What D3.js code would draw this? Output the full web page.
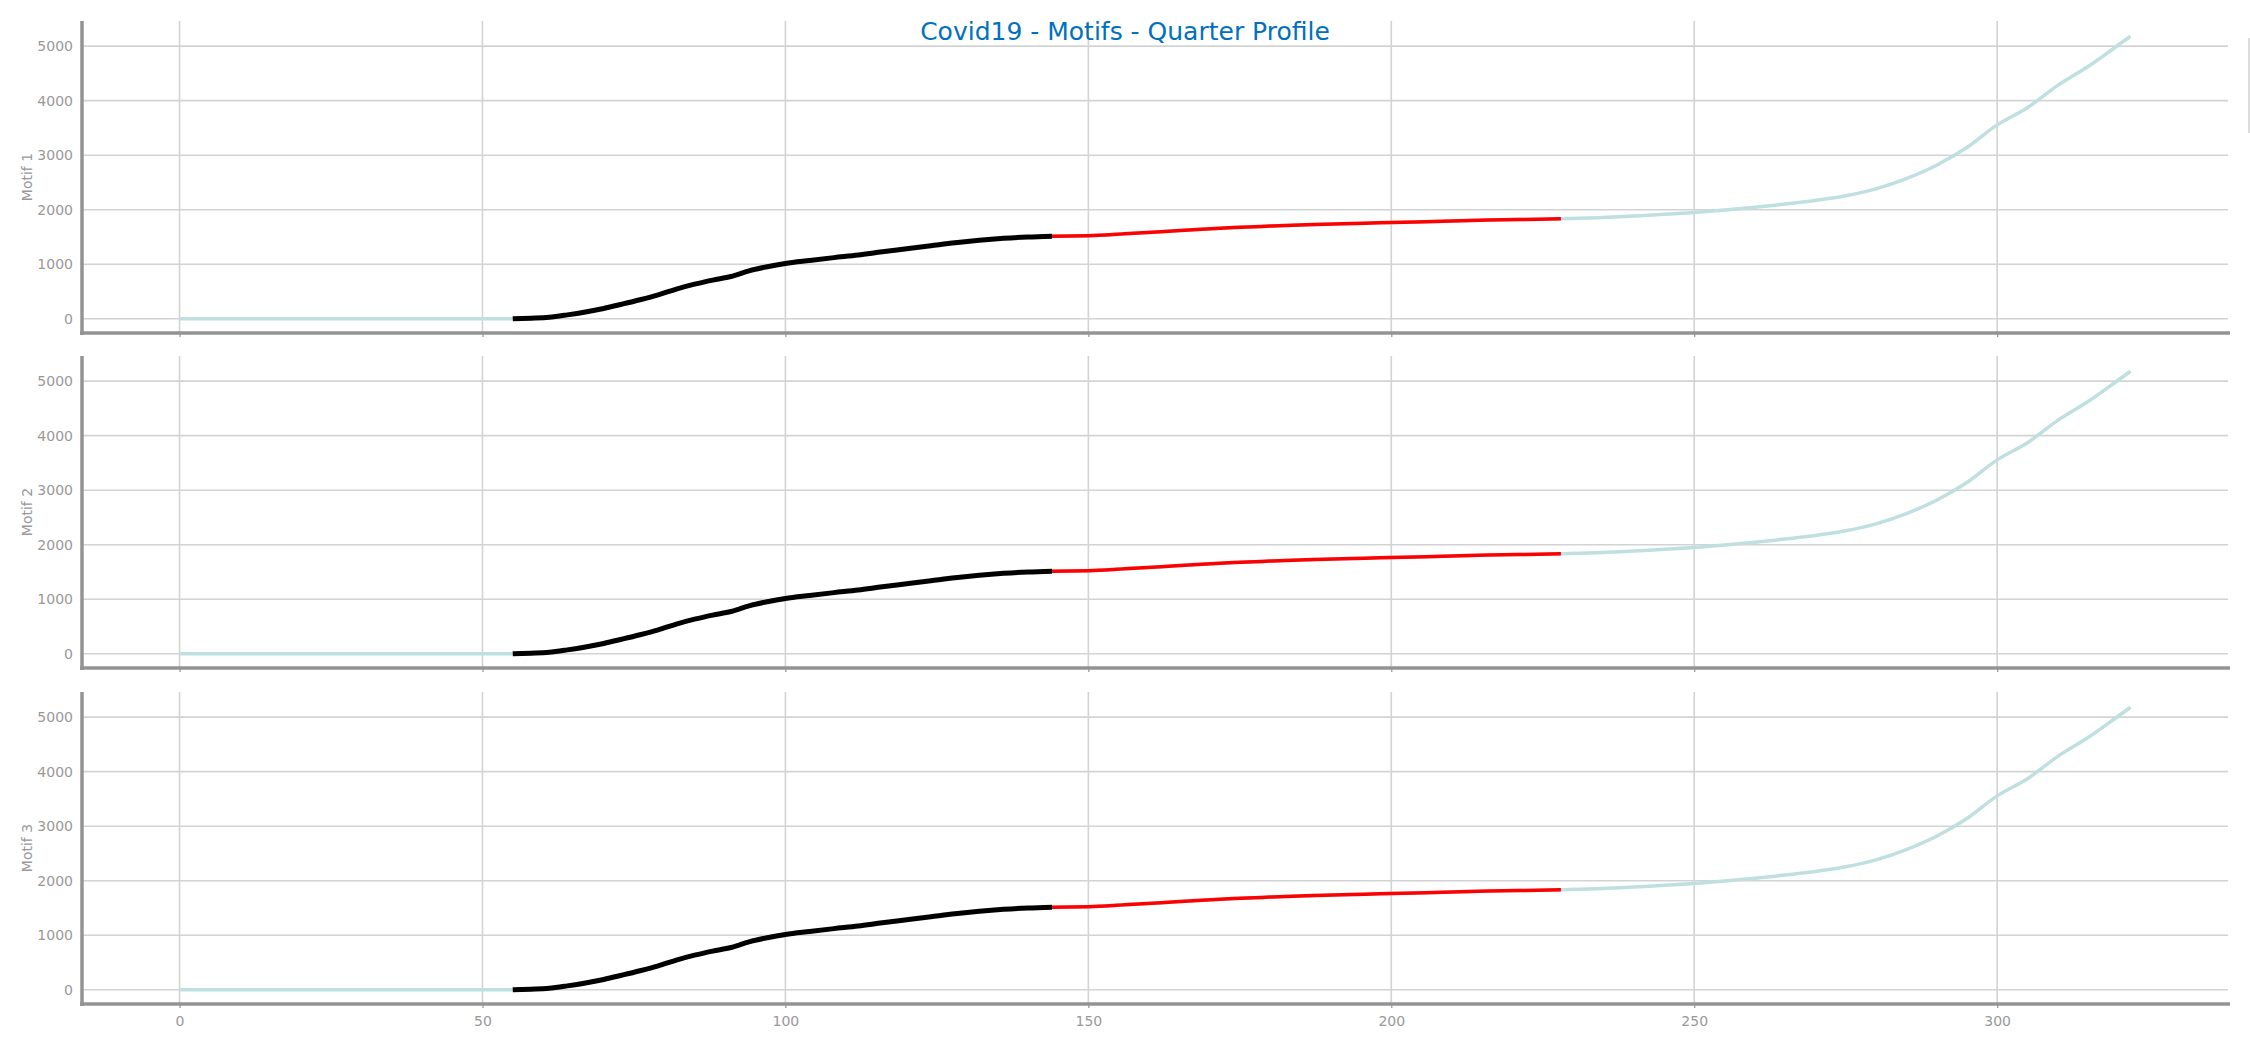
<!DOCTYPE html>
<html>
<head>
<meta charset="utf-8">
<script src="https://cdn.jsdelivr.net/npm/d3@7"></script>
<style>
  body { margin: 0; background: #fff; }
  svg text { font-family: "DejaVu Sans", sans-serif; }
</style>
</head>
<body>
<script>
// series (same profile in every panel)
const days = [0, 10, 20, 30, 40, 50, 55, 58, 61, 64, 67, 70, 73, 76, 79, 82, 85, 88, 91, 94, 97, 100,
  104, 108, 112, 116, 120, 124, 128, 132, 136, 140, 144, 150, 156, 162, 168, 174, 180, 186, 192, 198,
  204, 210, 216, 222, 228, 234, 240, 246, 250, 255, 260, 265, 270, 275, 280, 285, 290, 295, 300, 305,
  310, 315, 320, 322];
const values = [0, 0, 0, 0, 0, 0, 0, 11, 28, 72, 125, 190, 268, 350, 440, 545, 635, 710, 775, 880, 955, 1015,
  1070, 1122, 1170, 1230, 1285, 1340, 1395, 1440, 1475, 1500, 1516, 1522, 1558, 1597, 1637, 1673, 1700, 1724, 1744, 1760,
  1776, 1794, 1810, 1822, 1835, 1855, 1885, 1920, 1951, 1995, 2045, 2103, 2170, 2255, 2383, 2570, 2815, 3140, 3555, 3870,
  4280, 4625, 5020, 5180];

const panelNames = ["Motif 1", "Motif 2", "Motif 3"];
const motifRange = [55, 144];   // black
const nextRange = [144, 228];   // red
const xTicks = [0, 50, 100, 150, 200, 250, 300];
const yTicks = [0, 1000, 2000, 3000, 4000, 5000];
const title = "Covid19 - Motifs - Quarter Profile";

const width = 2250;
const height = 1050;
const left = 82;
const right = 2228;
const panelTops = [21, 356, 692];
const panelH = 312;

const data = days.map((d, i) => ({ x: d, y: values[i] }));

const svg = d3.select("body").append("svg")
  .attr("width", width)
  .attr("height", height);

const xScale = d3.scaleLinear().domain([-16.1, 338.1]).range([left, right]);

panelNames.forEach((name, p) => {
  const top = panelTops[p];
  const bottom = top + panelH;
  const yScale = d3.scaleLinear().domain([-260, 5460]).range([bottom, top]);
  const g = svg.append("g");

  // grid
  g.selectAll(".vgrid").data(xTicks).enter().append("line")
    .attr("x1", (d) => xScale(d)).attr("x2", (d) => xScale(d))
    .attr("y1", top).attr("y2", bottom)
    .attr("stroke", "#d3d3d3").attr("stroke-width", 1.6);
  g.selectAll(".hgrid").data(yTicks).enter().append("line")
    .attr("x1", left).attr("x2", right)
    .attr("y1", (d) => yScale(d)).attr("y2", (d) => yScale(d))
    .attr("stroke", "#d3d3d3").attr("stroke-width", 1.6);

  // y axis
  const yAxis = d3.axisLeft(yScale).tickValues(yTicks).tickSize(0).tickPadding(9)
    .tickFormat(d3.format("d"));
  const ya = g.append("g").attr("transform", `translate(${left},0)`).call(yAxis);
  ya.select(".domain").remove();
  ya.selectAll("text").attr("fill", "#999").style("font-size", "14px");

  // x axis (labels on the last panel only)
  const xAxis = d3.axisBottom(xScale).tickValues(xTicks).tickSize(4).tickPadding(8)
    .tickFormat(p === panelNames.length - 1 ? d3.format("d") : () => "");
  const xa = g.append("g").attr("transform", `translate(0,${bottom})`).call(xAxis);
  xa.select(".domain").remove();
  xa.selectAll("line").attr("stroke", "#939393").attr("stroke-width", 1.2);
  xa.selectAll("text").attr("fill", "#999").style("font-size", "14px");

  // series
  const line = d3.line().curve(d3.curveMonotoneX)
    .x((d) => xScale(d.x)).y((d) => yScale(d.y));
  g.append("path").datum(data)
    .attr("d", line).attr("fill", "none")
    .attr("stroke", "#bfdfe1").attr("stroke-width", 3.5);
  g.append("path").datum(data.filter((d) => d.x >= nextRange[0] && d.x <= nextRange[1]))
    .attr("d", line).attr("fill", "none")
    .attr("stroke", "#ff0000").attr("stroke-width", 3.5);
  g.append("path").datum(data.filter((d) => d.x >= motifRange[0] && d.x <= motifRange[1]))
    .attr("d", line).attr("fill", "none")
    .attr("stroke", "#000").attr("stroke-width", 5);

  // spines
  g.append("line").attr("x1", left).attr("x2", left)
    .attr("y1", top).attr("y2", bottom + 2)
    .attr("stroke", "#939393").attr("stroke-width", 3.5);
  g.append("line").attr("x1", left - 2).attr("x2", right + 2)
    .attr("y1", bottom).attr("y2", bottom)
    .attr("stroke", "#939393").attr("stroke-width", 3.5);

  // y label
  g.append("text")
    .attr("transform", `translate(32,${(top + bottom) / 2}) rotate(-90)`)
    .attr("text-anchor", "middle")
    .attr("fill", "#999")
    .style("font-size", "14px")
    .text(name);
});

// legend box edge, mostly cut off at the right
svg.append("line")
  .attr("x1", 2249).attr("x2", 2249).attr("y1", 38).attr("y2", 133)
  .attr("stroke", "#d0d0d0").attr("stroke-width", 1.5);

svg.append("text")
  .attr("x", 1125).attr("y", 40)
  .attr("text-anchor", "middle")
  .attr("fill", "#0070c0")
  .style("font-size", "25px")
  .text(title);
</script>
</body>
</html>
